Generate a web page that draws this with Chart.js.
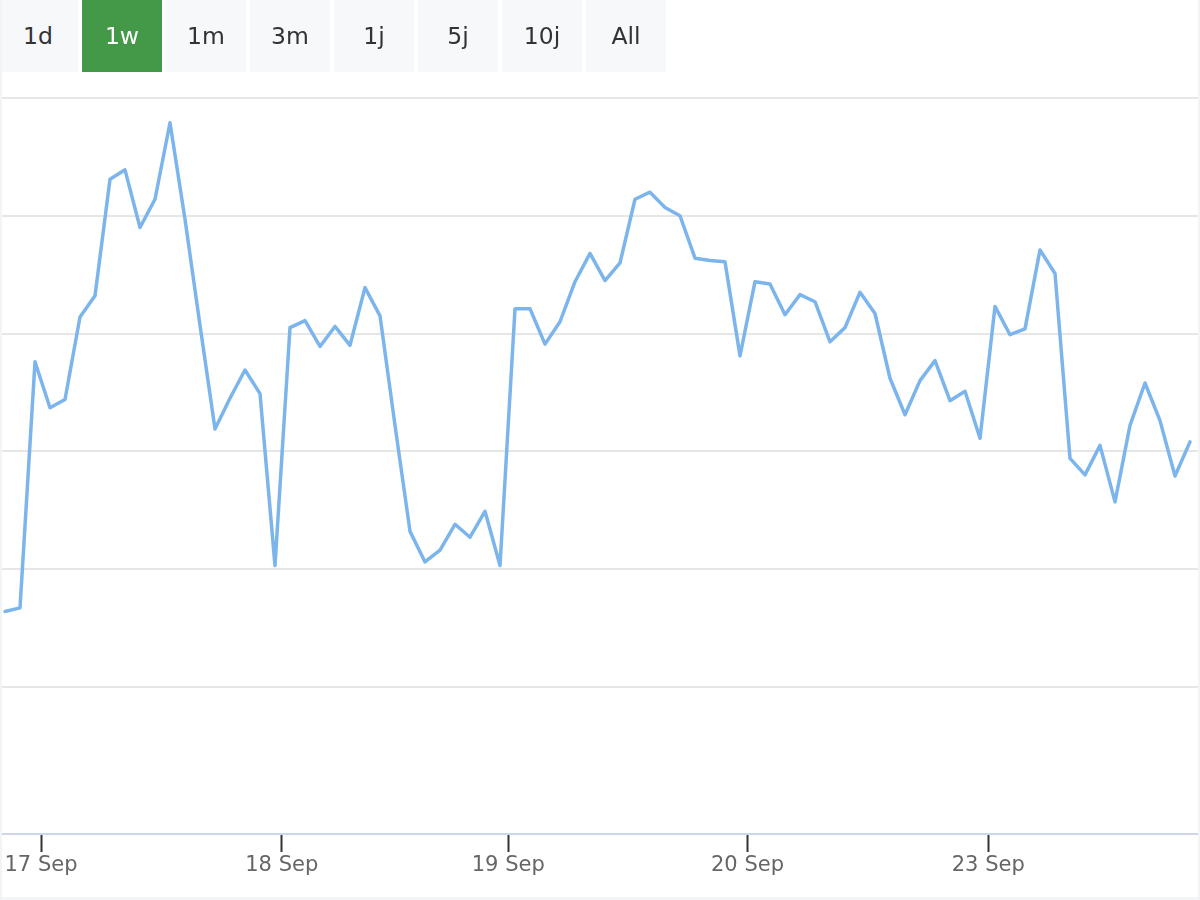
<!DOCTYPE html>
<html>
<head>
<meta charset="utf-8">
<script src="https://cdn.jsdelivr.net/npm/chart.js@4/dist/chart.umd.min.js"></script>
<style>
  html, body { margin: 0; padding: 0; background: #fff; }
  #wrap { position: relative; width: 1200px; height: 900px; overflow: hidden; }
  #chart { position: absolute; left: 0; top: 0; }
  #btns { position: absolute; left: 0; top: 0; height: 72px; }
  .b { position: absolute; top: 0; width: 80px; height: 72px; background: #f7f8fa; color: #333;
       font-family: "DejaVu Sans", sans-serif; font-size: 23.5px; line-height: 72px; text-align: center; }
  .b.on { background: #439947; color: #fff; }
  #frame { position: absolute; left: 0; top: 0; width: 1200px; height: 900px; box-sizing: border-box;
           border-left: 2px solid #f3f4f6; border-right: 2px solid #f3f4f6; border-bottom: 3px solid #f3f4f6;
           pointer-events: none; }
</style>
</head>
<body>
<div id="wrap">
  <canvas id="chart" width="1200" height="900"></canvas>
  <div id="btns"></div>
  <div id="frame"></div>
</div>
<script>
// Range selector buttons
const rangeButtons = ['1d', '1w', '1m', '3m', '1j', '5j', '10j', 'All'];
const activeButton = '1w';

// Series values (index = sample number, value in chart units; no y labels shown)
const priceValues = [
  0.64, 0.67, 2.76, 2.37, 2.44, 3.14, 3.32, 4.31, 4.39, 3.90,
  4.14, 4.79, 3.97, 3.07, 2.19, 2.45, 2.69, 2.49, 1.03, 3.05,
  3.11, 2.89, 3.06, 2.90, 3.39, 3.15, 2.22, 1.32, 1.06, 1.16,
  1.38, 1.27, 1.49, 1.03, 3.21, 3.21, 2.91, 3.10, 3.44, 3.68,
  3.45, 3.60, 4.14, 4.20, 4.07, 4.00, 3.64, 3.62, 3.61, 2.81,
  3.44, 3.42, 3.16, 3.33, 3.27, 2.93, 3.05, 3.35, 3.17, 2.62,
  2.31, 2.60, 2.77, 2.43, 2.51, 2.11, 3.23, 2.99, 3.04, 3.71,
  3.51, 1.94, 1.80, 2.05, 1.57, 2.22, 2.58, 2.26, 1.79, 2.08
];

// X axis ticks (positions in sample-index units) and labels
const tickPositions = [2.4, 18.45, 33.55, 49.5, 65.55];
const tickLabels = ['17 Sep', '18 Sep', '19 Sep', '20 Sep', '23 Sep'];

// Y grid values
const yGridValues = [0, 1, 2, 3, 4, 5];

// build buttons
const btnBox = document.getElementById('btns');
rangeButtons.forEach((t, i) => {
  const d = document.createElement('div');
  d.className = 'b' + (t === activeButton ? ' on' : '');
  d.style.left = (-2 + i * 84) + 'px';
  d.textContent = t;
  btnBox.appendChild(d);
});

const points = priceValues.map((v, i) => ({ x: i, y: v }));

new Chart(document.getElementById('chart'), {
  type: 'line',
  data: {
    datasets: [{
      data: points,
      borderColor: '#7cb5ec',
      borderWidth: 3.5,
      pointRadius: 0,
      tension: 0,
      fill: false,
      borderJoinStyle: 'round',
      borderCapStyle: 'round'
    }]
  },
  options: {
    responsive: false,
    animation: false,
    devicePixelRatio: 1,
    layout: { padding: { left: 0, right: 0, top: 98, bottom: 0 } },
    plugins: { legend: { display: false }, tooltip: { enabled: false } },
    scales: {
      x: {
        type: 'linear',
        min: -1 / 3,
        max: priceValues.length - 1 + 2 / 3,
        afterBuildTicks: (s) => { s.ticks = tickPositions.map(v => ({ value: v })); },
        afterFit: (s) => { s.height = 66; },
        grid: {
          drawOnChartArea: false,
          drawTicks: true,
          tickLength: 18,
          tickColor: '#333333',
          tickWidth: 2
        },
        border: { display: true, color: '#ccd6eb', width: 2 },
        ticks: {
          autoSkip: false,
          maxRotation: 0,
          padding: 1,
          color: '#666666',
          font: { family: 'DejaVu Sans', size: 21 },
          callback: (v) => {
            const k = tickPositions.indexOf(v);
            return k >= 0 ? tickLabels[k] : '';
          }
        }
      },
      y: {
        min: -1.25,
        max: 5,
        afterBuildTicks: (s) => { s.ticks = yGridValues.map(v => ({ value: v })); },
        afterFit: (s) => { s.width = 0; },
        grid: { color: '#e6e6e6', lineWidth: 2, drawTicks: false },
        border: { display: false },
        ticks: { display: false }
      }
    }
  }
});
</script>
</body>
</html>
